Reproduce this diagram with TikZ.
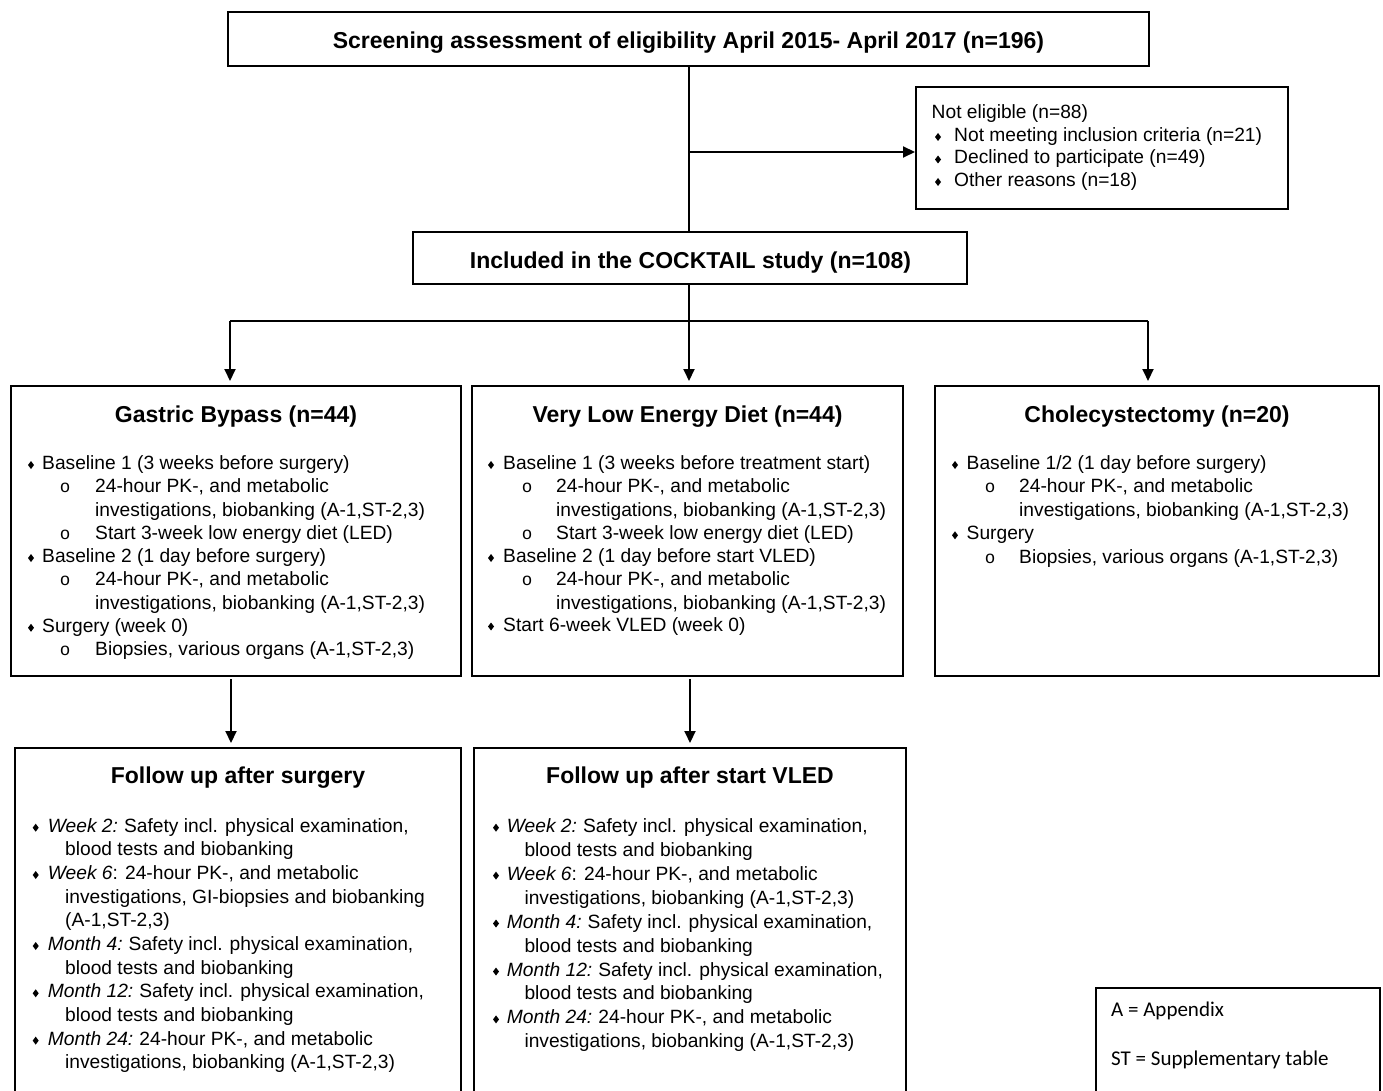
\documentclass[tikz,border=0pt]{standalone}
\usepackage{fontspec}
\setmainfont{Liberation Sans}
\newfontfamily\calib{Carlito}
\newfontfamily\monof{Liberation Mono}
\usetikzlibrary{arrows.meta}
\newcommand\bodyf{\fontsize{19.2}{23}\selectfont}
\newcommand\titf{\fontsize{23}{27}\selectfont\bfseries}
\newcounter{tn}
\newcommand\tl[3]{\stepcounter{tn}\node[txt] (t\arabic{tn}) at (#1,#2) {#3};}
\newcommand\ttl[3]{\stepcounter{tn}\node[ttxt] (t\arabic{tn}) at (#1,#2) {#3};}
\newcommand\sbul[2]{\stepcounter{tn}\node[sbtxt] (t\arabic{tn}) at (#1,#2) {o};}
\newcommand\dia[2]{\fill (#1,#2-4.5) +(0,-4) -- +(3,0) -- +(0,4) -- +(-3,0) -- cycle;}
\begin{document}
\begin{tikzpicture}[x=1pt,y=-1pt,
  box/.style={draw, line width=2pt, rectangle, inner sep=0pt},
  txt/.style={font=\bodyf, anchor=base west, inner sep=0pt},
  ttxt/.style={font=\titf, anchor=base, inner sep=0pt},
  sbtxt/.style={font={\fontsize{17.5}{20}\selectfont\monof}, anchor=base, inner sep=0pt},
  conn/.style={line width=2pt},
  arr/.style={line width=2pt, -{Triangle[width=11pt,length=12pt]}}]
\useasboundingbox (0,0) rectangle (1383,1091);
\clip (0,0) rectangle (1383,1091);

% boxes
\node[box, minimum width=921pt, minimum height=54pt] (screen) at (688.5,39) {};
\node[box, minimum width=372pt, minimum height=122pt] (notel) at (1102,148) {};
\node[box, minimum width=554pt, minimum height=52pt] (incl) at (690,258) {};
\node[box, minimum width=450pt, minimum height=290pt] (gb) at (236,531) {};
\node[box, minimum width=431pt, minimum height=290pt] (vled) at (687.5,531) {};
\node[box, minimum width=444pt, minimum height=290pt] (chole) at (1157,531) {};
\node[box, minimum width=446pt, minimum height=352pt] (fgb) at (238,924) {};
\node[box, minimum width=432pt, minimum height=352pt] (fvl) at (690,924) {};
\node[box, minimum width=284pt, minimum height=112pt] (leg) at (1238,1044) {};

% connectors
\coordinate (br) at (689,152);
\coordinate (sp) at (689,321);
\coordinate (hl) at (230,321);
\coordinate (hr) at (1148,321);
\draw[conn] (screen.south -| sp) -- (sp |- incl.north);
\draw[arr] (br) -- (br -| notel.west);
\draw[conn] (sp |- incl.south) -- (sp);
\draw[conn] (hl) -- (hr);
\draw[arr, shorten >=4pt] (hl) -- (hl |- gb.north);
\draw[arr, shorten >=4pt] (sp) -- (sp |- vled.north);
\draw[arr, shorten >=4pt] (hr) -- (hr |- chole.north);
\draw[arr, shorten <=2pt, shorten >=4pt] ([xshift=-5pt]gb.south) -- ([xshift=-5pt]gb.south |- fgb.north);
\draw[arr, shorten <=2pt, shorten >=4pt] ([xshift=2.5pt]vled.south) -- ([xshift=2.5pt]vled.south |- fvl.north);

% top texts
\ttl{688.5}{48.5}{Screening assessment of eligibility April 2015- April 2017 (n=196)}
\ttl{690.5}{268.5}{Included in the COCKTAIL study (n=108)}

% not eligible
\tl{931.5}{119}{Not eligible (n=88)}
\dia{938}{141.5}\tl{954}{141.5}{Not meeting inclusion criteria (n=21)}
\dia{938}{164}\tl{954}{164}{Declined to participate (n=49)}
\dia{938}{186.5}\tl{954}{186.5}{Other reasons (n=18)}

% gastric bypass
\ttl{236}{422.5}{Gastric Bypass (n=44)}
\dia{31}{469.5}\tl{42}{469.5}{Baseline 1 (3 weeks before surgery)}
\sbul{65}{492.75}\tl{95}{492.75}{24-hour PK-, and metabolic}
\tl{95}{516}{investigations, biobanking (A-1,ST-2,3)}
\sbul{65}{539.25}\tl{95}{539.25}{Start 3-week low energy diet (LED)}
\dia{31}{562.5}\tl{42}{562.5}{Baseline 2 (1 day before surgery)}
\sbul{65}{585.75}\tl{95}{585.75}{24-hour PK-, and metabolic}
\tl{95}{609}{investigations, biobanking (A-1,ST-2,3)}
\dia{31}{632.25}\tl{42}{632.25}{Surgery (week 0)}
\sbul{65}{655.5}\tl{95}{655.5}{Biopsies, various organs (A-1,ST-2,3)}

% VLED
\ttl{687.5}{422.5}{Very Low Energy Diet (n=44)}
\dia{491}{469.5}\tl{503}{469.5}{Baseline 1 (3 weeks before treatment start)}
\sbul{527}{492.75}\tl{556}{492.75}{24-hour PK-, and metabolic}
\tl{556}{516}{investigations, biobanking (A-1,ST-2,3)}
\sbul{527}{539.25}\tl{556}{539.25}{Start 3-week low energy diet (LED)}
\dia{491}{562.5}\tl{503}{562.5}{Baseline 2 (1 day before start VLED)}
\sbul{527}{585.75}\tl{556}{585.75}{24-hour PK-, and metabolic}
\tl{556}{609}{investigations, biobanking (A-1,ST-2,3)}
\dia{491}{631}\tl{503}{631}{Start 6-week VLED (week 0)}

% cholecystectomy
\ttl{1157}{422.5}{Cholecystectomy (n=20)}
\dia{955}{469.5}\tl{966.5}{469.5}{Baseline 1/2 (1 day before surgery)}
\sbul{990}{492.75}\tl{1019}{492.75}{24-hour PK-, and metabolic}
\tl{1019}{516}{investigations, biobanking (A-1,ST-2,3)}
\dia{955}{539.8}\tl{966.5}{539.8}{Surgery}
\sbul{990}{563.8}\tl{1019}{563.8}{Biopsies, various organs (A-1,ST-2,3)}

% follow up after surgery
\ttl{238}{783.8}{Follow up after surgery}
\dia{35.7}{832.2}\tl{47.7}{832.2}{\textit{Week 2:}\hspace{-1pt} Safety incl. physical examination,}
\tl{65}{855.9}{blood tests and biobanking}
\dia{35.7}{879.5}\tl{47.7}{879.5}{\textit{Week 6}: 24-hour PK-, and metabolic}
\tl{65}{903.2}{investigations, GI-biopsies and biobanking}
\tl{65}{926.8}{(A-1,ST-2,3)}
\dia{35.7}{950.5}\tl{47.7}{950.5}{\textit{Month 4:}\hspace{-1pt} Safety incl. physical examination,}
\tl{65}{974.2}{blood tests and biobanking}
\dia{35.7}{997.8}\tl{47.7}{997.8}{\textit{Month 12:}\hspace{-1pt} Safety incl. physical examination,}
\tl{65}{1021.5}{blood tests and biobanking}
\dia{35.7}{1045.1}\tl{47.7}{1045.1}{\textit{Month 24:}\hspace{-1pt} 24-hour PK-, and metabolic}
\tl{65}{1068.8}{investigations, biobanking (A-1,ST-2,3)}

% follow up after start VLED
\ttl{690}{783.8}{Follow up after start VLED}
\dia{496}{832.2}\tl{506.7}{832.2}{\textit{Week 2:}\hspace{-1pt} Safety incl. physical examination,}
\tl{524.3}{856.2}{blood tests and biobanking}
\dia{496}{880.1}\tl{506.7}{880.1}{\textit{Week 6}: 24-hour PK-, and metabolic}
\tl{524.3}{904.1}{investigations, biobanking (A-1,ST-2,3)}
\dia{496}{928}\tl{506.7}{928}{\textit{Month 4:}\hspace{-1pt} Safety incl. physical examination,}
\tl{524.3}{952}{blood tests and biobanking}
\dia{496}{976}\tl{506.7}{976}{\textit{Month 12:}\hspace{-1pt} Safety incl. physical examination,}
\tl{524.3}{999.9}{blood tests and biobanking}
\dia{496}{1023.9}\tl{506.7}{1023.9}{\textit{Month 24:}\hspace{-1pt} 24-hour PK-, and metabolic}
\tl{524.3}{1047.8}{investigations, biobanking (A-1,ST-2,3)}

% legend
\stepcounter{tn}\node[txt, font={\calib\fontsize{21}{25}\selectfont}] (la) at (1111,1016) {A = Appendix};
\stepcounter{tn}\node[txt, font={\calib\fontsize{21}{25}\selectfont}] (ls) at (1111,1065) {ST = Supplementary table};
\end{tikzpicture}
\end{document}
